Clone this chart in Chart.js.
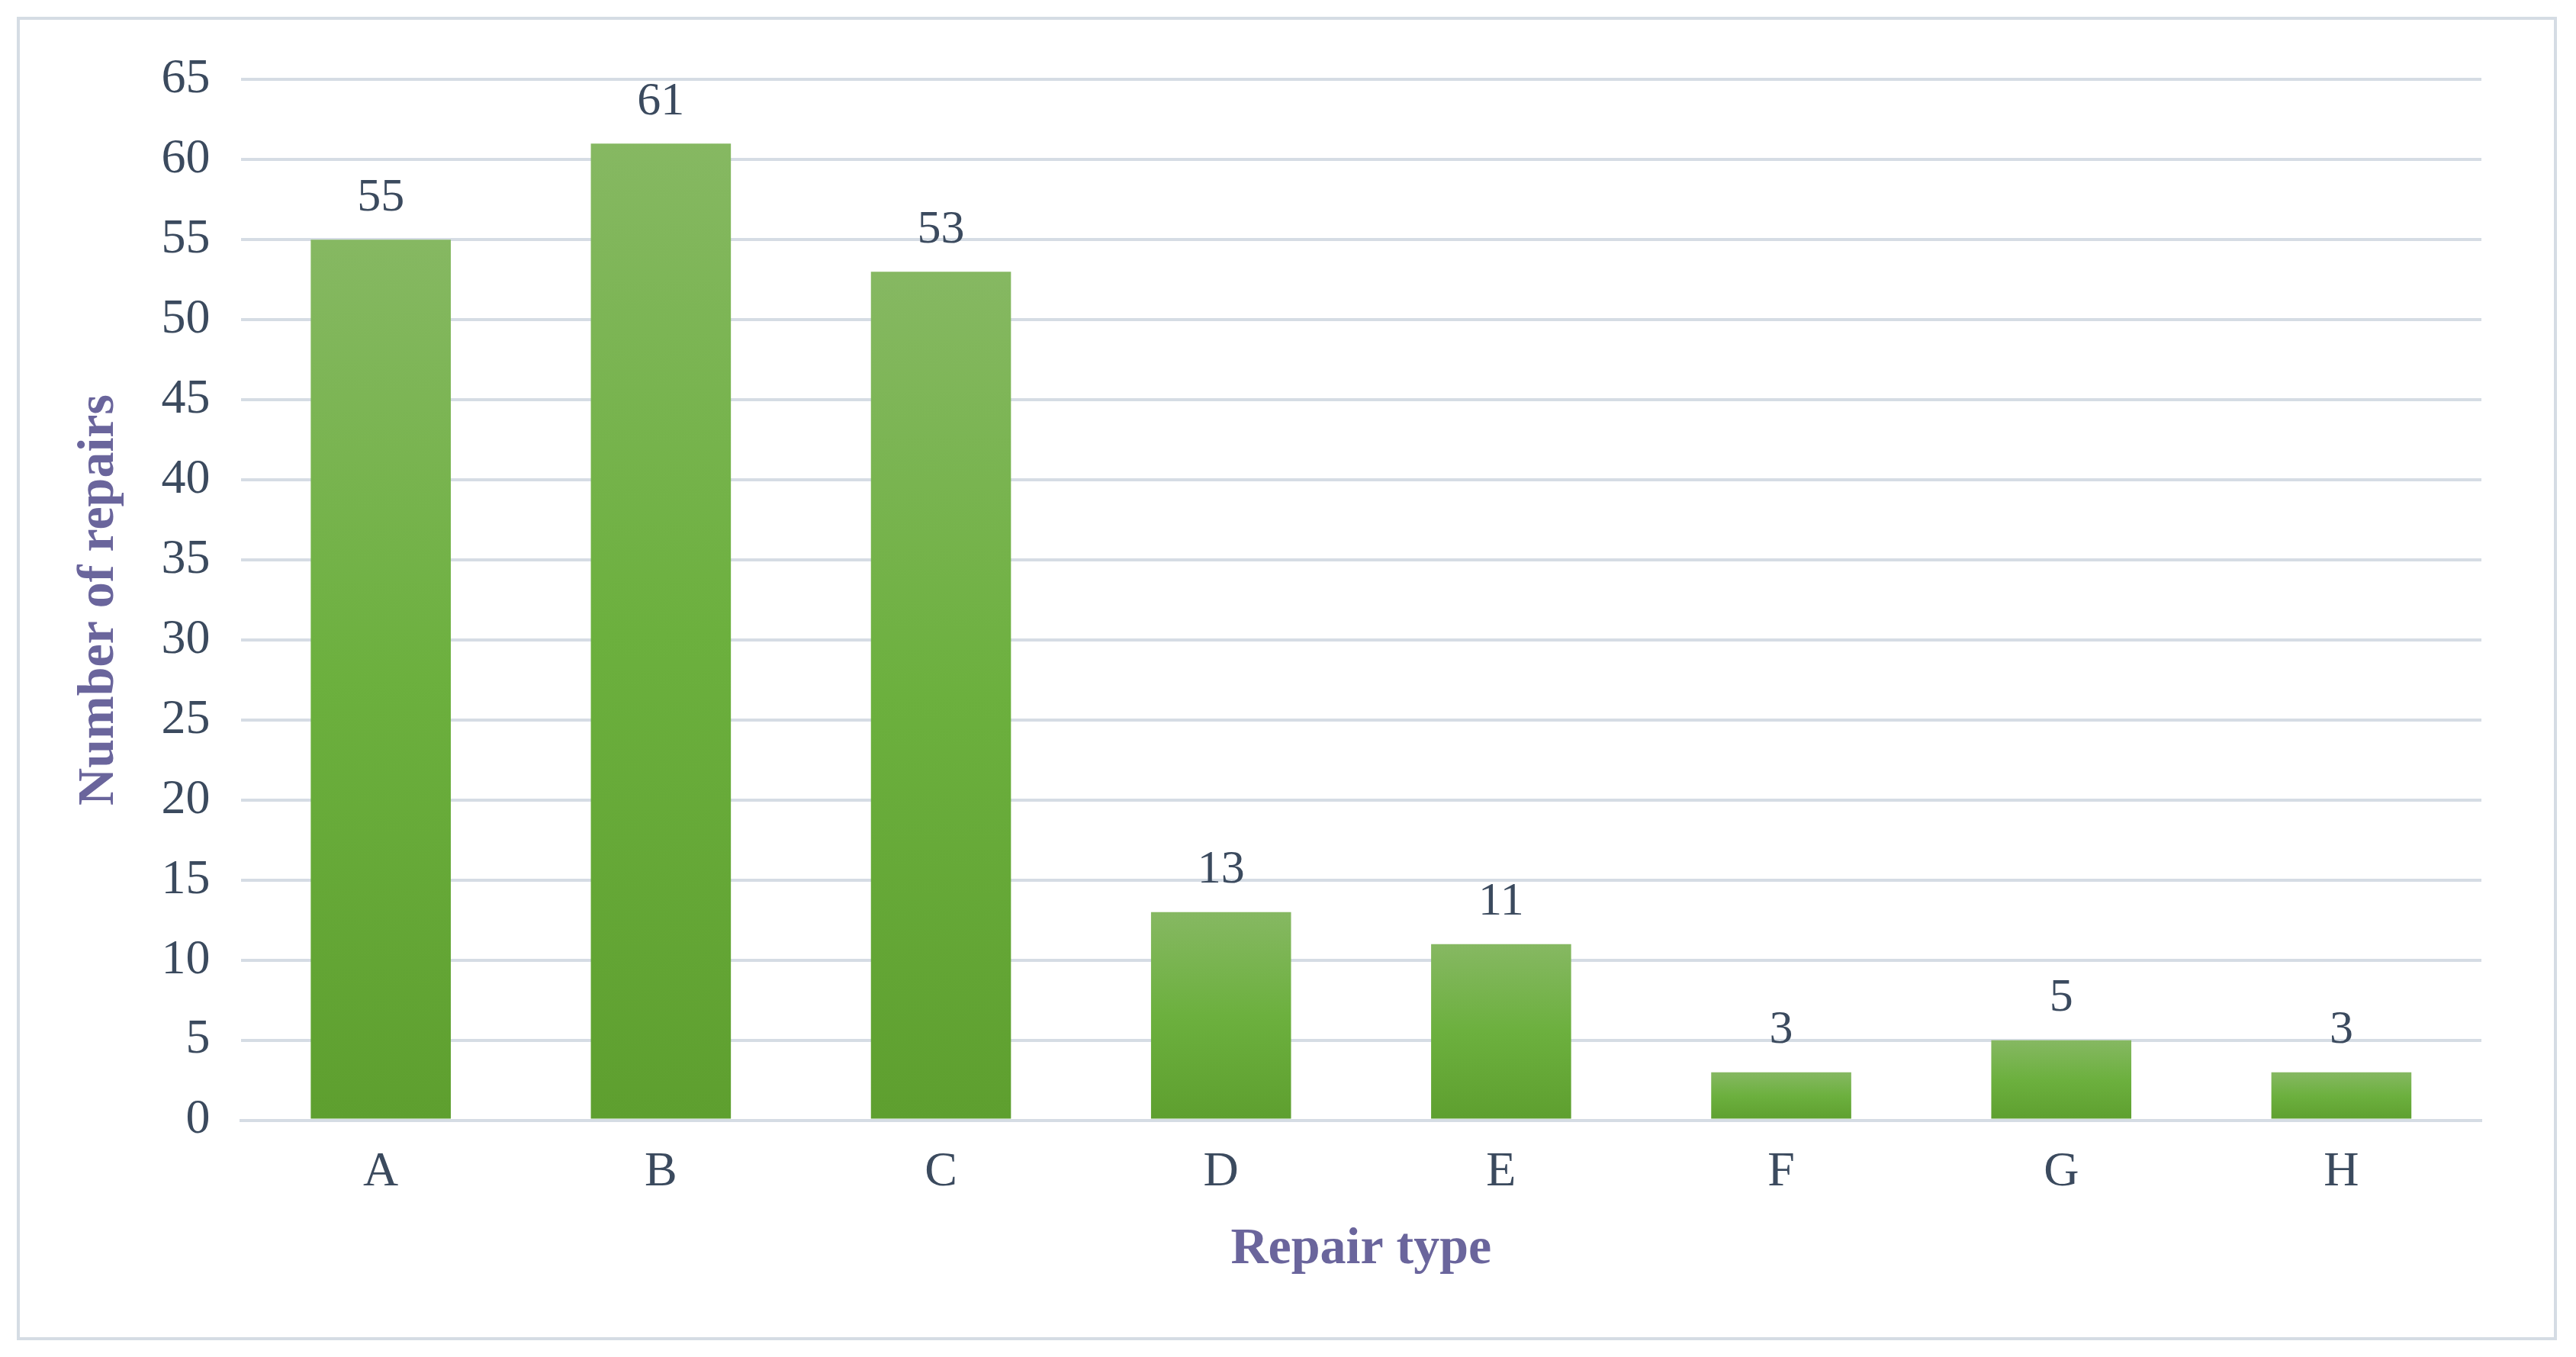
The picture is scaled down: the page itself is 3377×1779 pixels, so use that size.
<!DOCTYPE html>
<html>
<head>
<meta charset="utf-8">
<script src="https://cdn.jsdelivr.net/npm/chart.js@4"></script>
<style>
  html, body { margin: 0; padding: 0; background: #fff; }
  #wrap { position: absolute; left: 22px; top: 22px; width: 3330px; height: 1735px; border: 4px solid #D5DCE4; box-sizing: border-box; }
  canvas { display: block; }
</style>
</head>
<body>
<div id="wrap"><canvas id="repairChart"></canvas></div>
<script>
const categories = ['A', 'B', 'C', 'D', 'E', 'F', 'G', 'H'];
const repairs = [55, 61, 53, 13, 11, 3, 5, 3];

function barGradient(context) {
    const chart = context.chart;
    const y = chart.scales.y;
    if (!y || context.raw === undefined) return '#6CB03E';
    const top = y.getPixelForValue(context.raw);
    const base = y.getPixelForValue(0);
    if (!isFinite(top) || !isFinite(base) || top === base) return '#6CB03E';
    const g = chart.ctx.createLinearGradient(0, top, 0, base);
    g.addColorStop(0, '#86B862');
    g.addColorStop(0.5, '#6CB03E');
    g.addColorStop(1, '#5E9F2F');
    return g;
}

const valueLabels = {
    id: 'valueLabels',
    afterDatasetsDraw(chart) {
        const ctx = chart.ctx;
        ctx.save();
        ctx.font = '62px "Liberation Serif"';
        ctx.fillStyle = '#3B4A5E';
        ctx.textAlign = 'center';
        ctx.textBaseline = 'bottom';
        chart.getDatasetMeta(0).data.forEach((bar, i) => {
            ctx.fillText(repairs[i], bar.x, bar.y - 24);
        });
        ctx.restore();
    }
};

new Chart(document.getElementById('repairChart').getContext('2d'), {
    type: 'bar',
    data: {
        labels: categories,
        datasets: [{
            label: 'Number of repairs',
            data: repairs,
            backgroundColor: barGradient,
            barPercentage: 1,
            categoryPercentage: 0.5
        }]
    },
    options: {
        responsive: true,
        maintainAspectRatio: false,
        animation: false,
        layout: { padding: { top: 60, right: 95, bottom: 70, left: 60 } },
        plugins: {
            legend: { display: false },
            tooltip: { enabled: false }
        },
        scales: {
            x: {
                grid: { display: false },
                border: { color: '#D5DCE4', width: 4 },
                ticks: { color: '#3B4A5E', font: { family: 'Liberation Serif', size: 64 }, padding: 22 },
                title: { display: true, text: 'Repair type', color: '#6A659C', font: { family: 'Liberation Serif', size: 68, weight: 'bold' }, padding: { top: 0 } }
            },
            y: {
                min: 0,
                max: 65,
                ticks: { stepSize: 5, color: '#3B4A5E', font: { family: 'Liberation Serif', size: 64 }, padding: 40 },
                grid: { color: '#D5DCE4', lineWidth: 4, drawTicks: false },
                border: { display: false },
                title: { display: true, text: 'Number of repairs', color: '#6A659C', font: { family: 'Liberation Serif', size: 68, weight: 'bold' }, padding: { bottom: 0 } }
            }
        }
    },
    plugins: [valueLabels]
});
</script>
</body>
</html>
